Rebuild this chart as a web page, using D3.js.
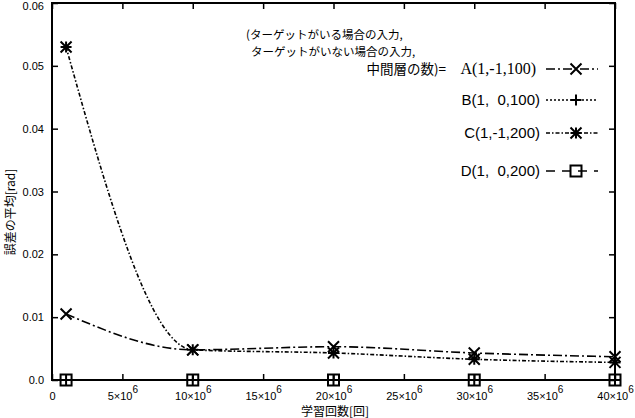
<!DOCTYPE html>
<html><head><meta charset="utf-8">
<script src="https://cdn.jsdelivr.net/npm/d3@7"></script>
<style>
html,body{margin:0;padding:0;background:#fff;}
svg{display:block;}
text{fill:#000;}
</style>
</head><body>
<svg id="c" width="635" height="418"></svg>
<script>
// ---- data ----
const iterations = [1e6, 10e6, 20e6, 30e6, 40e6];
const seriesA = [0.0105, 0.0048, 0.0053, 0.0043, 0.0037];
const seriesB = [0, 0, 0, 0, 0];
const seriesC = [0.053, 0.0048, 0.0043, 0.0033, 0.0028];
const seriesD = [0, 0, 0, 0, 0];
const xTicks = [0, 5e6, 10e6, 15e6, 20e6, 25e6, 30e6, 35e6, 40e6];
const yTicks = [0, 0.01, 0.02, 0.03, 0.04, 0.05, 0.06];
const legendNames = ["A(1,-1,100)", "B(1,  0,100)", "C(1,-1,200)", "D(1,  0,200)"];
const headerLines = ["(ターゲットがいる場合の入力,", "ターゲットがいない場合の入力,", "中間層の数)="];
const xTitle = "学習回数[回]";
const yTitle = "誤差の平均[rad]";

const svg = d3.select("#c");
const L = 52, R = 615, T = 3, B = 380;
const x = d3.scaleLinear().domain([0, 40e6]).range([L, R]);
const y = d3.scaleLinear().domain([0, 0.06]).range([B, T]);
const sans = "'Liberation Sans', Arial, sans-serif";
const jp = "'Noto Sans CJK JP', sans-serif";

// axes
const gx = svg.append("g").attr("transform", `translate(0,${B})`)
  .call(d3.axisBottom(x).tickValues(xTicks).tickSizeInner(-6).tickSizeOuter(0).tickFormat(""));
const gy = svg.append("g").attr("transform", `translate(${L},0)`)
  .call(d3.axisLeft(y).tickValues(yTicks).tickSizeInner(-6).tickSizeOuter(0).tickPadding(8)
    .tickFormat(d => d === 0 ? "0.0" : d.toFixed(2)));
svg.append("g").attr("transform", `translate(0,${T})`)
  .call(d3.axisTop(x).tickValues(xTicks).tickSizeInner(-6).tickSizeOuter(0).tickFormat(""));
svg.append("g").attr("transform", `translate(${R},0)`)
  .call(d3.axisRight(y).tickValues(yTicks).tickSizeInner(-6).tickSizeOuter(0).tickFormat(""));
svg.selectAll(".domain").remove();
svg.selectAll(".tick line").attr("stroke", "#000").attr("stroke-width", 1.5);
gy.selectAll("text").attr("font-family", sans).attr("font-size", 11).attr("fill", "#000");
gy.selectAll(".tick").filter(d => d === 0.06).select("text").attr("dy", "0.62em");

// x tick labels with superscript
gx.selectAll(".tick").each(function(d) {
  const t = d3.select(this).select("text").attr("font-family", sans).attr("font-size", 11)
    .attr("fill", "#000").attr("dy", null).attr("y", 20);
  if (d === 0) { t.text("0"); return; }
  t.append("tspan").text((d / 1e6) + "×10");
  t.append("tspan").attr("dy", "-7").attr("font-size", 10).text("6");
});

// frame
svg.append("rect").attr("x", L).attr("y", T).attr("width", R - L).attr("height", B - T)
  .attr("fill", "none").attr("stroke", "#000").attr("stroke-width", 2);

// axis titles
svg.append("text").attr("x", 335).attr("y", 416).attr("text-anchor", "middle")
  .attr("font-family", jp).attr("font-size", 12).text(xTitle);
svg.append("text").attr("transform", "translate(15,212) rotate(-90)").attr("text-anchor", "middle")
  .attr("font-family", jp).attr("font-size", 12).text(yTitle);

// markers
function marker(g, type, cx, cy) {
  const s = 5.5;
  let p = "";
  if (type === "x" || type === "star") p += `M${cx-s},${cy-s}L${cx+s},${cy+s}M${cx-s},${cy+s}L${cx+s},${cy-s}`;
  if (type === "plus" || type === "star") p += `M${cx-s},${cy}L${cx+s},${cy}M${cx},${cy-s}L${cx},${cy+s}`;
  if (type === "square") p += `M${cx-s},${cy-s}h${2*s}v${2*s}h${-2*s}Z`;
  g.append("path").attr("d", p).attr("fill", "none").attr("stroke", "#000").attr("stroke-width", 2);
}

const series = [
  { vals: seriesA, dash: "9,3,2,3", m: "x" },
  { vals: seriesB, dash: "2,2", m: "plus" },
  { vals: seriesC, dash: "4,2,1.5,2", m: "star" },
  { vals: seriesD, dash: "9,7", m: "square" }
];
const line = d3.line().x(d => x(d[0])).y(d => y(d[1])).curve(d3.curveMonotoneX);
const plot = svg.append("g");
series.forEach(s => {
  const pts = iterations.map((v, i) => [v, s.vals[i]]);
  plot.append("path").attr("d", line(pts)).attr("fill", "none").attr("stroke", "#000")
    .attr("stroke-width", 1.6).attr("stroke-dasharray", s.dash);
});
series.forEach(s => {
  iterations.forEach((v, i) => marker(plot, s.m, x(v), y(s.vals[i])));
});

// legend
const lg = svg.append("g");
lg.append("text").attr("x", 246).attr("y", 39).attr("font-family", jp).attr("font-size", 11.5).text(headerLines[0]);
lg.append("text").attr("x", 251).attr("y", 56).attr("font-family", jp).attr("font-size", 11.5).text(headerLines[1]);
lg.append("text").attr("x", 446).attr("y", 74).attr("text-anchor", "end").attr("font-family", jp).attr("font-size", 13.5).text(headerLines[2]);
const rowsY = [69, 100, 133, 171];
series.forEach((s, i) => {
  const ty = rowsY[i];
  lg.append("text").attr("x", i === 0 ? 536 : 540).attr("y", ty + 5).attr("text-anchor", "end")
    .attr("font-family", i === 0 ? "'Liberation Serif', serif" : sans)
    .attr("font-size", i === 0 ? 16 : 15).attr("xml:space", "preserve")
    .text(legendNames[i]);
  lg.append("line").attr("x1", 546).attr("x2", 598).attr("y1", ty).attr("y2", ty)
    .attr("stroke", "#000").attr("stroke-width", 1.6).attr("stroke-dasharray", s.dash);
  marker(lg, s.m, 576, ty);
});
</script>
</body></html>
